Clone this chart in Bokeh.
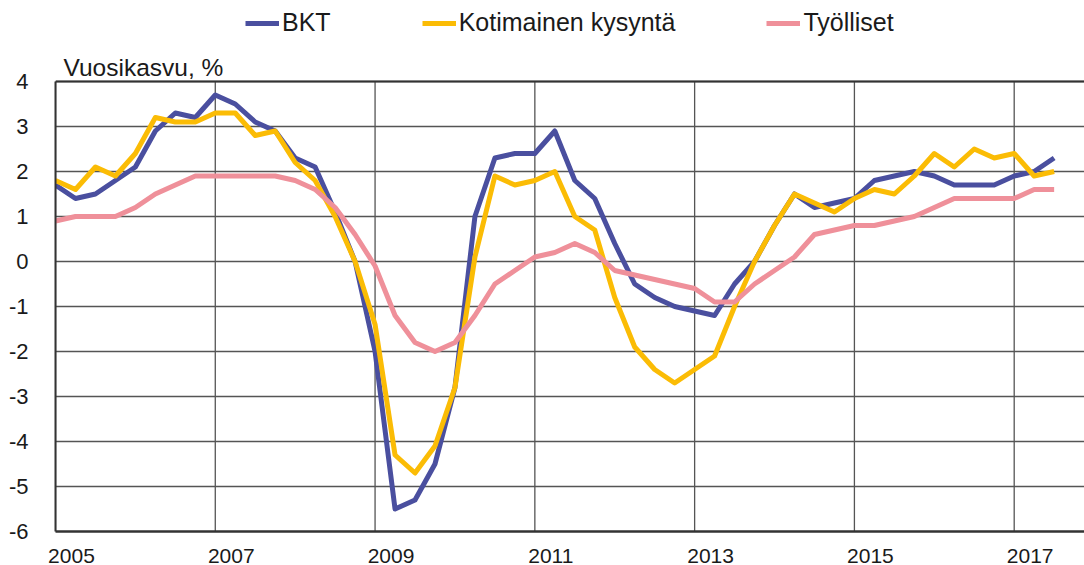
from bokeh.plotting import figure
from bokeh.models import (Range1d, FixedTicker, CustomJSTickFormatter, Legend, LegendItem,
                          Label, Span)
from bokeh.embed import file_html
from bokeh.resources import INLINE

# Quarterly data, 2005Q1 ... 2017Q3 (annual growth, %)
start_year = 2005
bkt = [1.7, 1.4, 1.5, 1.8, 2.1, 2.9, 3.3, 3.2, 3.7, 3.5, 3.1, 2.9, 2.3, 2.1, 1.1, 0.0,
       -2.0, -5.5, -5.3, -4.5, -2.8, 1.0, 2.3, 2.4, 2.4, 2.9, 1.8, 1.4, 0.4, -0.5,
       -0.8, -1.0, -1.1, -1.2, -0.5, 0.0, 0.8, 1.5, 1.2, 1.3, 1.4, 1.8, 1.9, 2.0,
       1.9, 1.7, 1.7, 1.7, 1.9, 2.0, 2.3]
kotimainen = [1.8, 1.6, 2.1, 1.9, 2.4, 3.2, 3.1, 3.1, 3.3, 3.3, 2.8, 2.9, 2.2, 1.8, 1.0, 0.0,
              -1.4, -4.3, -4.7, -4.1, -2.8, 0.1, 1.9, 1.7, 1.8, 2.0, 1.0, 0.7, -0.8, -1.9,
              -2.4, -2.7, -2.4, -2.1, -1.0, 0.0, 0.8, 1.5, 1.3, 1.1, 1.4, 1.6, 1.5, 1.9,
              2.4, 2.1, 2.5, 2.3, 2.4, 1.9, 2.0]
tyolliset = [0.9, 1.0, 1.0, 1.0, 1.2, 1.5, 1.7, 1.9, 1.9, 1.9, 1.9, 1.9, 1.8, 1.6, 1.2, 0.6,
             -0.1, -1.2, -1.8, -2.0, -1.8, -1.2, -0.5, -0.2, 0.1, 0.2, 0.4, 0.2, -0.2, -0.3,
             -0.4, -0.5, -0.6, -0.9, -0.9, -0.5, -0.2, 0.1, 0.6, 0.7, 0.8, 0.8, 0.9, 1.0,
             1.2, 1.4, 1.4, 1.4, 1.4, 1.6, 1.6]
x_years = [start_year + 0.25 * i for i in range(len(bkt))]

year_ticks = [2005, 2007, 2009, 2011, 2013, 2015, 2017]
y_ticks = [-6, -5, -4, -3, -2, -1, 0, 1, 2, 3, 4]
y_min, y_max = -6, 4

series_names = ["BKT", "Kotimainen kysyntä", "Työlliset"]
series_colors = ["#4a4f9f", "#fbbc05", "#ef909a"]
y_title = "Vuosikasvu, %"

FONT = "Liberation Sans"
TXT = "#1a1a1a"
GRID = "#555555"

# the frame reaches up to the top of the figure so that the legend and the
# axis title (drawn as annotations) are not clipped; the value axis stops at 4
p = figure(width=1084, height=565, output_backend="svg", toolbar_location=None,
           x_range=Range1d(2005, 2017.88), y_range=Range1d(y_min, 5.8),
           min_border_left=55, min_border_right=0, min_border_top=0, min_border_bottom=34)
p.outline_line_color = None
p.background_fill_color = "white"

# x axis: labels sit a little to the right of the year gridlines
p.xaxis.ticker = FixedTicker(ticks=[t + 0.2 for t in year_ticks])
p.xaxis.formatter = CustomJSTickFormatter(code="return Math.floor(tick).toString()")
p.xaxis.major_tick_line_color = None
p.xaxis.minor_tick_line_color = None
p.xaxis.axis_line_color = "#333333"
p.xaxis.axis_line_width = 2.5
p.xaxis.major_label_standoff = 11
p.xaxis.major_label_text_font = FONT
p.xaxis.major_label_text_font_size = "21px"
p.xaxis.major_label_text_color = TXT

p.yaxis.ticker = FixedTicker(ticks=y_ticks)
p.yaxis.bounds = (y_min, y_max)
p.yaxis.formatter = CustomJSTickFormatter(code="return tick.toFixed(0)")
p.yaxis.major_tick_line_color = None
p.yaxis.minor_tick_line_color = None
p.yaxis.axis_line_color = "#333333"
p.yaxis.axis_line_width = 2
p.yaxis.major_label_standoff = 21
p.yaxis.major_label_text_font = FONT
p.yaxis.major_label_text_font_size = "22px"
p.yaxis.major_label_text_color = TXT

# grid: horizontal lines from the y ticks, vertical lines only inside the value area
p.xgrid.visible = False
p.ygrid.grid_line_color = GRID
p.ygrid.grid_line_width = 1.3
p.segment(x0=year_ticks, y0=[y_min] * len(year_ticks), x1=year_ticks, y1=[y_max] * len(year_ticks),
          line_color=GRID, line_width=1.3)
p.add_layout(Span(location=y_max, dimension="width", line_color="#333333", line_width=2))

# lines
renderers = []
for vals, col in zip([bkt, kotimainen, tyolliset], series_colors):
    r = p.line(x_years, vals, line_color=col, line_width=5, line_join="round")
    renderers.append(r)

# legend at the top
legend = Legend(items=[LegendItem(label=n, renderers=[r]) for n, r in zip(series_names, renderers)],
                location=(190, 494), orientation="horizontal", glyph_width=34, glyph_height=20,
                label_standoff=3, spacing=91, padding=0, margin=0, border_line_color=None,
                background_fill_alpha=0, label_text_font=FONT, label_text_font_size="25px",
                label_text_color=TXT)
p.add_layout(legend, "center")

# axis title above the value area
p.add_layout(Label(x=8, y=464.5, x_units="screen", y_units="screen", text=y_title,
                   text_font=FONT, text_font_size="24.5px", text_color=TXT,
                   text_baseline="alphabetic", text_align="left"))

open("out.html", "w").write(file_html(p, INLINE))
